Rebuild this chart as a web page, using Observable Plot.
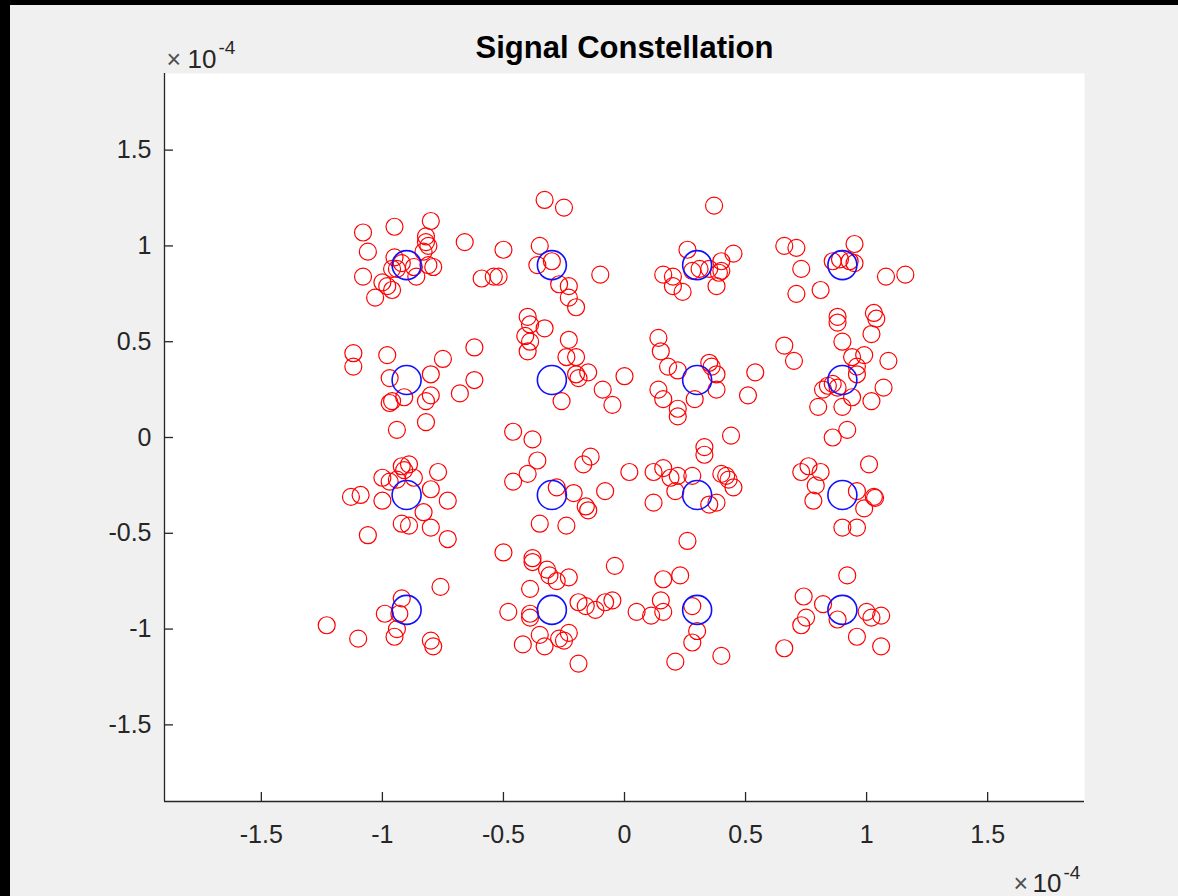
<!DOCTYPE html>
<html>
<head>
<meta charset="utf-8">
<script src="https://cdn.jsdelivr.net/npm/d3@7"></script>
<script src="https://cdn.jsdelivr.net/npm/@observablehq/plot@0.6"></script>
<style>
html, body { margin: 0; padding: 0; background: #000; width: 1178px; height: 896px; overflow: hidden; }
#fig { position: absolute; left: 10px; top: 5px; width: 1168px; height: 891px; background: #f0f0f0; }
#fig svg { display: block; }
</style>
</head>
<body>
<div id="fig"></div>
<script>
// Values in units of 1e-4 (axis exponent ×10^-4)
const titleText = "Signal Constellation";
const exponentBase = "10";
const exponentPower = "-4";
const xLimits = [-1.9, 1.9];
const yLimits = [-1.9, 1.9];
const xTicks = [-1.5, -1, -0.5, 0, 0.5, 1, 1.5];
const yTicks = [-1.5, -1, -0.5, 0, 0.5, 1, 1.5];

// 16-QAM reference constellation
const reference = [
  [-0.9, 0.9], [-0.3, 0.9], [0.3, 0.9], [0.9, 0.9],
  [-0.9, 0.3], [-0.3, 0.3], [0.3, 0.3], [0.9, 0.3],
  [-0.9, -0.3], [-0.3, -0.3], [0.3, -0.3], [0.9, -0.3],
  [-0.9, -0.9], [-0.3, -0.9], [0.3, -0.9], [0.9, -0.9]
];

// received symbols [in-phase, quadrature]
const received = [
  [-1.08,1.07],[-0.95,1.10],[-0.80,1.13],[-0.82,1.05],[-0.82,1.02],[-0.81,1.00],[-1.06,0.97],[-0.95,0.94],[-0.83,0.97],[-0.94,0.88],[-0.96,0.88],[-0.86,0.84],[-0.79,0.89],[-0.81,0.90],[-1.08,0.84],[-1.00,0.81],[-0.98,0.79],[-0.96,0.77],[-1.03,0.73],[-0.66,1.02],[-0.59,0.83],[-0.54,0.84],[-0.52,0.84],[-0.50,0.98],[-0.92,0.91],[-0.87,0.89],
  [-0.33,1.24],[-0.25,1.20],[-0.35,1.00],[-0.36,0.90],[-0.30,0.92],[-0.27,0.80],[-0.23,0.79],[-0.23,0.73],[-0.20,0.68],[-0.10,0.85],
  [0.37,1.21],[0.26,0.98],[0.45,0.96],[0.16,0.85],[0.20,0.84],[0.20,0.79],[0.24,0.76],[0.31,0.88],[0.40,0.92],[0.39,0.86],[0.35,0.88],[0.40,0.87],[0.38,0.79],[0.28,0.87],
  [0.66,1.00],[0.71,0.99],[0.73,0.88],[0.71,0.75],[0.81,0.77],[0.95,1.01],[0.86,0.92],[0.89,0.93],[0.93,0.92],[0.95,0.91],[1.08,0.84],[1.16,0.85],[0.88,0.63],[1.03,0.65],
  [-1.12,0.44],[-1.12,0.37],[-0.98,0.43],[-0.75,0.41],[-0.62,0.47],[-0.97,0.31],[-0.80,0.33],[-0.62,0.30],[-0.68,0.23],[-0.91,0.21],[-0.97,0.18],[-0.96,0.19],[-0.80,0.22],[-0.82,0.19],[-0.82,0.08],[-0.94,0.04],
  [-0.40,0.63],[-0.39,0.59],[-0.33,0.57],[-0.41,0.53],[-0.39,0.50],[-0.40,0.45],[-0.23,0.51],[-0.24,0.42],[-0.20,0.42],[-0.20,0.33],[-0.19,0.31],[-0.15,0.34],[-0.09,0.25],[0.00,0.32],[-0.05,0.17],[-0.26,0.19],[-0.46,0.03],[-0.38,-0.01],
  [0.14,0.52],[0.15,0.45],[0.18,0.37],[0.22,0.35],[0.14,0.25],[0.16,0.20],[0.22,0.15],[0.22,0.11],[0.29,0.20],[0.35,0.39],[0.36,0.37],[0.38,0.33],[0.38,0.25],[0.54,0.34],[0.51,0.22],[0.44,0.01],[0.33,-0.05],
  [0.66,0.48],[0.70,0.40],[0.88,0.60],[1.04,0.62],[0.90,0.50],[1.02,0.54],[0.99,0.43],[1.09,0.40],[0.94,0.42],[0.96,0.37],[0.96,0.33],[0.84,0.27],[0.82,0.25],[0.86,0.28],[0.88,0.26],[1.07,0.26],[1.02,0.19],[0.94,0.21],[0.80,0.16],[0.90,0.16],[0.86,0.00],[0.92,0.04],
  [-1.00,-0.21],[-0.92,-0.15],[-0.89,-0.14],[-0.91,-0.17],[-0.97,-0.23],[-0.94,-0.22],[-0.87,-0.21],[-0.77,-0.18],[-1.13,-0.31],[-1.09,-0.30],[-1.00,-0.33],[-0.80,-0.27],[-0.73,-0.33],[-0.83,-0.39],[-0.92,-0.45],[-0.89,-0.46],[-0.80,-0.47],[-1.06,-0.51],[-0.73,-0.53],
  [-0.46,-0.23],[-0.40,-0.19],[-0.36,-0.12],[-0.28,-0.26],[-0.21,-0.29],[-0.17,-0.14],[-0.14,-0.10],[-0.16,-0.36],[-0.15,-0.38],[-0.35,-0.45],[-0.24,-0.46],[-0.50,-0.60],[-0.38,-0.63],[-0.08,-0.28],
  [0.02,-0.18],[0.12,-0.18],[0.16,-0.16],[0.33,-0.09],[0.19,-0.21],[0.22,-0.20],[0.28,-0.20],[0.21,-0.28],[0.12,-0.34],[0.35,-0.35],[0.38,-0.34],[0.40,-0.19],[0.42,-0.20],[0.43,-0.22],[0.45,-0.26],[0.26,-0.54],
  [0.73,-0.18],[0.76,-0.15],[0.81,-0.18],[0.79,-0.25],[0.78,-0.33],[1.01,-0.14],[0.96,-0.28],[1.03,-0.31],[1.035,-0.315],[0.99,-0.37],[0.90,-0.47],[0.96,-0.47],
  [-0.76,-0.78],[-0.92,-0.84],[-0.99,-0.92],[-0.93,-0.92],[-1.23,-0.98],[-1.10,-1.05],[-0.94,-1.00],[-0.95,-1.04],[-0.80,-1.06],[-0.79,-1.09],
  [-0.38,-0.65],[-0.32,-0.69],[-0.31,-0.72],[-0.28,-0.75],[-0.23,-0.73],[-0.39,-0.79],[-0.48,-0.91],[-0.39,-0.92],[-0.39,-0.94],[-0.19,-0.86],[-0.16,-0.88],[-0.12,-0.90],[-0.35,-1.03],[-0.27,-1.05],[-0.23,-1.02],[-0.25,-1.06],[-0.42,-1.08],[-0.33,-1.09],[-0.19,-1.18],
  [-0.04,-0.67],[0.16,-0.74],[0.23,-0.72],[-0.08,-0.86],[-0.05,-0.85],[0.05,-0.91],[0.11,-0.93],[0.15,-0.85],[0.16,-0.91],[0.28,-0.88],[0.30,-1.01],[0.28,-1.07],[0.21,-1.17],[0.40,-1.14],
  [0.92,-0.72],[0.74,-0.83],[0.82,-0.87],[0.75,-0.94],[0.73,-0.98],[0.88,-0.95],[1.00,-0.91],[1.02,-0.94],[1.06,-0.93],[0.96,-1.04],[1.06,-1.09],[0.66,-1.10]
];

const font = "'Liberation Sans', Arial, Helvetica, sans-serif";
const axisColor = "#262626";
const fmt = d => String(d);

const chart = Plot.plot({
  width: 1168,
  height: 891,
  marginLeft: 154,
  marginRight: 94,
  marginTop: 68,
  marginBottom: 95,
  style: { background: "transparent", fontFamily: font, fontSize: "25px", color: axisColor, overflow: "visible" },
  x: { domain: xLimits },
  y: { domain: yLimits },
  marks: [
    Plot.frame({ fill: "#ffffff", stroke: "none" }),
    Plot.dot(received, { x: d => d[0], y: d => d[1], r: 8.5, stroke: "#ff0000", strokeWidth: 1.2, fill: "none" }),
    Plot.dot(reference, { x: d => d[0], y: d => d[1], r: 14.5, stroke: "#1010ff", strokeWidth: 1.6, fill: "none" }),
    Plot.ruleX([xLimits[0]], { stroke: axisColor, strokeWidth: 1.3 }),
    Plot.ruleY([yLimits[0]], { stroke: axisColor, strokeWidth: 1.3 }),
    Plot.axisX(xTicks, { tickSize: -9, tickPadding: 33, tickFormat: fmt, fontSize: 25, stroke: axisColor, strokeWidth: 1.3, label: null }),
    Plot.axisY(yTicks, { tickSize: -9, tickPadding: 22, tickFormat: fmt, fontSize: 25, stroke: axisColor, strokeWidth: 1.3, label: null }),
    Plot.text([titleText], { frameAnchor: "top", dy: -16, lineAnchor: "bottom", fontSize: 31, fontWeight: "bold", fill: "#000000" }),
    Plot.text(["×"], { frameAnchor: "top-left", dx: 2, dy: -6, lineAnchor: "bottom", textAnchor: "start", fontSize: 25, fill: "#505050" }),
    Plot.text([exponentBase], { frameAnchor: "top-left", dx: 23, dy: -6, lineAnchor: "bottom", textAnchor: "start", fontSize: 26, fill: axisColor }),
    Plot.text([exponentPower], { frameAnchor: "top-left", dx: 54, dy: -20, lineAnchor: "bottom", textAnchor: "start", fontSize: 19, fill: axisColor }),
    Plot.text(["×"], { frameAnchor: "bottom-right", dx: -71, dy: 90, lineAnchor: "bottom", textAnchor: "start", fontSize: 25, fill: "#505050" }),
    Plot.text([exponentBase], { frameAnchor: "bottom-right", dx: -52, dy: 90, lineAnchor: "bottom", textAnchor: "start", fontSize: 26, fill: axisColor }),
    Plot.text([exponentPower], { frameAnchor: "bottom-right", dx: -21, dy: 77, lineAnchor: "bottom", textAnchor: "start", fontSize: 19, fill: axisColor })
  ]
});
document.getElementById("fig").appendChild(chart);
</script>
</body>
</html>
